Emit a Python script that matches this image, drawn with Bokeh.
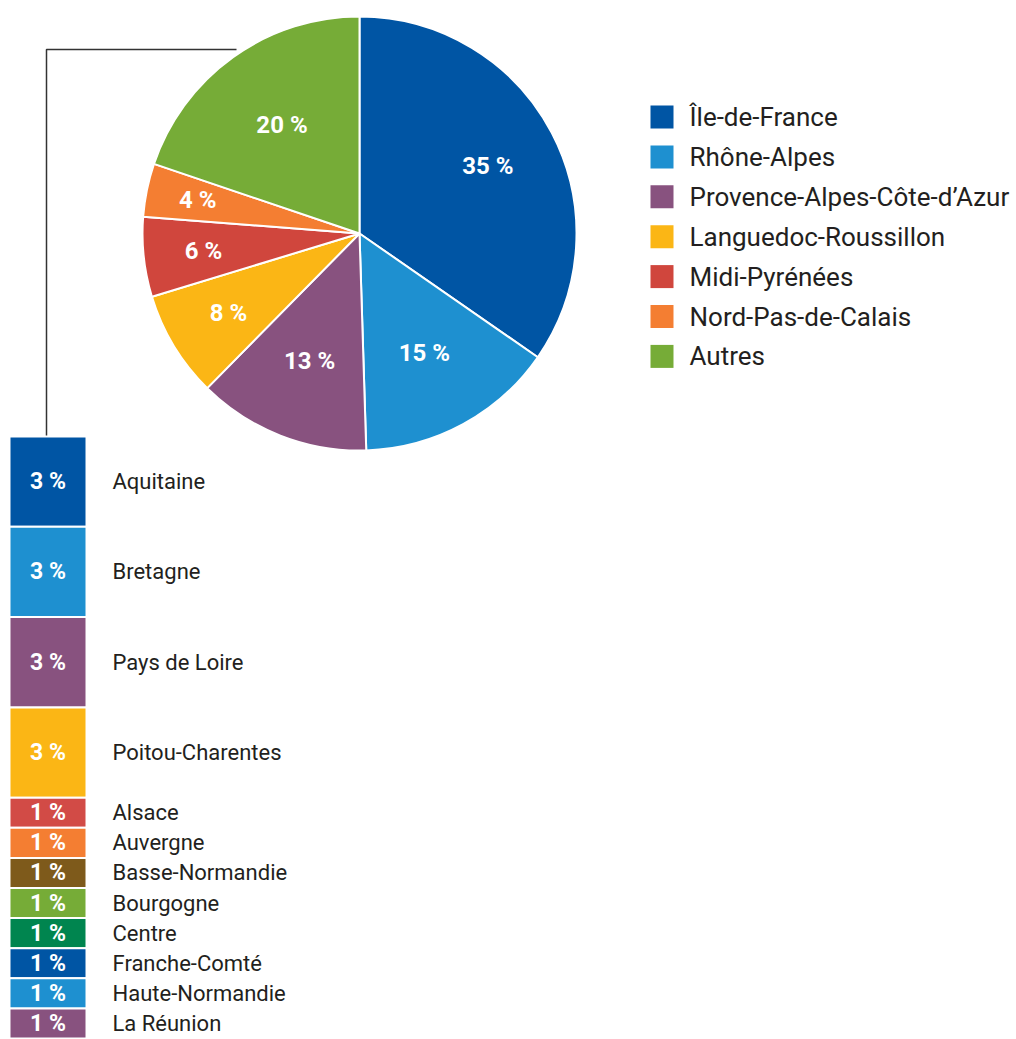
import numpy as np
from bokeh.plotting import figure
from bokeh.models import Range1d, ColumnDataSource
from bokeh.core.properties import value
from bokeh.embed import file_html
from bokeh.resources import INLINE

# ---------------- data ----------------
regions = ["Île-de-France", "Rhône-Alpes", "Provence-Alpes-Côte-d’Azur",
           "Languedoc-Roussillon", "Midi-Pyrénées", "Nord-Pas-de-Calais", "Autres"]
shares = [35, 15, 13, 8, 6, 4, 20]
pie_colors = ["#0055A4", "#1E90D0", "#88527F", "#FBB615", "#D0463D", "#F47E32", "#76AC37"]

other_regions = ["Aquitaine", "Bretagne", "Pays de Loire", "Poitou-Charentes", "Alsace",
                 "Auvergne", "Basse-Normandie", "Bourgogne", "Centre", "Franche-Comté",
                 "Haute-Normandie", "La Réunion"]
other_shares = [3, 3, 3, 3, 1, 1, 1, 1, 1, 1, 1, 1]
other_colors = ["#0055A4", "#1E90D0", "#88527F", "#FBB615", "#D24B46", "#F47E32",
                "#7E5A1B", "#76AC37", "#00854F", "#0055A4", "#1E90D0", "#88527F"]

# ---------------- layout (screen-pixel coordinates, y negative downward) ----------------
W, H = 1016, 1039
FONT = "Roboto"
TXT = "#231F20"

p = figure(width=W, height=H, output_backend="svg", toolbar_location=None,
           x_range=Range1d(0, W), y_range=Range1d(-H, 0),
           min_border=0, x_axis_location=None, y_axis_location=None)
p.grid.visible = False
p.outline_line_color = None
p.background_fill_color = "white"

# pie
cx, cy, R = 359, -233, 217
vals = np.array(shares, dtype=float)
frac = vals / vals.sum()
cum = np.concatenate([[0], np.cumsum(frac)])
start = np.pi / 2 - 2 * np.pi * cum[1:]
end = np.pi / 2 - 2 * np.pi * cum[:-1]
pie_src = ColumnDataSource(dict(start=start, end=end, color=pie_colors))
p.wedge(x=cx, y=cy, radius=R, start_angle="start", end_angle="end", source=pie_src,
        fill_color="color", line_color="white", line_width=2, direction="anticlock")

mid = np.pi / 2 - 2 * np.pi * (cum[:-1] + cum[1:]) / 2
label_r = np.array([145, 136, 137, 153, 157, 165, 133])
lbl_src = ColumnDataSource(dict(x=cx + label_r * np.cos(mid), y=cy + label_r * np.sin(mid),
                                t=[f"{v} %" for v in shares]))
p.text(x="x", y="y", text="t", source=lbl_src, text_color="white",
       text_font=value(FONT), text_font_style="bold", text_font_size="24px",
       text_align="center", text_baseline="middle")

# legend
lx, ly0, lstep = 661.5, -116.5, 39.9
leg_y = ly0 - lstep * np.arange(len(regions))
p.rect(x=lx, y=leg_y, width=23, height=23, fill_color=pie_colors, line_color=None)
p.text(x=689, y=leg_y, text=regions, text_color=TXT, text_font=value(FONT),
       text_font_size="26px", text_align="left", text_baseline="middle")

# connector line
p.line(x=[236, 46, 46], y=[-49, -49, -436], line_color="#333333", line_width=1.5)

# stacked column of the "Autres"
top0, bottom0 = -436, -1038
unit = (top0 - bottom0) / sum(other_shares)
ov = np.array(other_shares, dtype=float)
tops = top0 - unit * np.concatenate([[0], np.cumsum(ov)[:-1]])
bots = top0 - unit * np.cumsum(ov)
p.quad(left=9, right=86, top=tops, bottom=bots, fill_color=other_colors,
       line_color="white", line_width=2)
ymid = (tops + bots) / 2
p.text(x=47.5, y=ymid, text=[f"{v} %" for v in other_shares], text_color="white",
       text_font=value(FONT), text_font_style="bold", text_font_size="23px",
       text_align="center", text_baseline="middle")
p.text(x=112, y=ymid, text=other_regions, text_color=TXT, text_font=value(FONT),
       text_font_size="22px", text_align="left", text_baseline="middle")

open("out.html", "w").write(file_html(p, INLINE))
